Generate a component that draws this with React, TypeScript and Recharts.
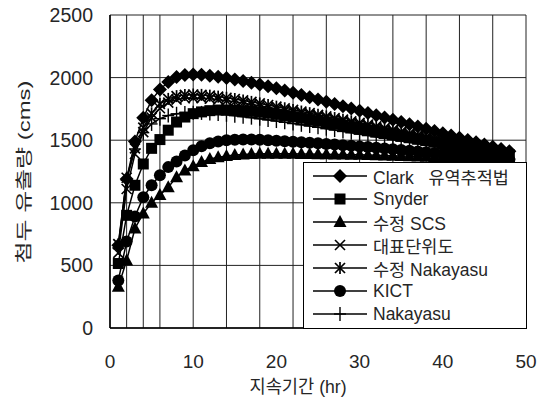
import React from 'react';
import { LineChart, Line, XAxis, YAxis, CartesianGrid } from 'recharts';

const hours = [1,2,3,4,5,6,7,8,9,10,11,12,13,14,15,16,17,18,19,20,21,22,23,24,25,26,27,28,29,30,31,32,33,34,35,36,37,38,39,40,41,42,43,44,45,46,47,48];

const clark = [660,1190,1490,1680,1820,1905,1965,2005,2020,2025,2022,2015,2006,1996,1985,1972,1959,1945,1930,1915,1897,1879,1861,1843,1825,1807,1789,1771,1753,1735,1717,1699,1681,1663,1645,1627,1609,1591,1573,1555,1537,1519,1501,1483,1465,1447,1429,1411];
const snyder = [515,900,1140,1310,1435,1505,1580,1645,1685,1712,1726,1736,1741,1742,1740,1736,1730,1723,1715,1706,1696,1686,1675,1664,1653,1641,1629,1617,1605,1593,1581,1569,1557,1545,1533,1521,1509,1497,1485,1473,1461,1449,1437,1425,1413,1401,1389,1377];
const scs = [330,540,795,915,1000,1062,1125,1205,1258,1292,1325,1350,1364,1374,1381,1386,1389,1391,1392,1392,1392,1391,1390,1389,1388,1387,1386,1385,1384,1383,1382,1380,1378,1376,1374,1372,1370,1368,1366,1364,1361,1358,1355,1352,1349,1346,1343,1340];
const daepyo = [600,1110,1390,1565,1680,1755,1800,1824,1835,1838,1836,1831,1824,1816,1807,1797,1786,1775,1763,1751,1739,1727,1715,1703,1690,1677,1664,1651,1638,1625,1612,1598,1584,1570,1556,1542,1528,1514,1500,1486,1472,1458,1444,1430,1416,1402,1388,1375];
const modNakayasu = [670,1200,1435,1600,1715,1790,1830,1852,1862,1865,1862,1856,1848,1839,1829,1818,1806,1794,1781,1768,1755,1742,1729,1716,1703,1690,1677,1664,1651,1638,1624,1610,1596,1582,1568,1554,1540,1526,1512,1498,1484,1470,1456,1442,1428,1414,1400,1386];
const kict = [380,690,890,1045,1140,1220,1285,1330,1378,1420,1452,1476,1490,1499,1504,1506,1505,1503,1500,1496,1492,1488,1484,1480,1475,1470,1465,1460,1455,1450,1445,1439,1433,1427,1421,1415,1409,1403,1397,1391,1385,1379,1373,1367,1361,1355,1349,1343];
const nakayasu = [640,1180,1430,1560,1630,1672,1697,1711,1718,1720,1718,1714,1709,1703,1696,1688,1680,1671,1662,1653,1643,1633,1623,1613,1603,1592,1581,1570,1559,1548,1537,1526,1515,1504,1493,1482,1471,1460,1449,1438,1427,1416,1405,1394,1383,1372,1361,1350];

const seriesNames = ['Clark   유역추적법', 'Snyder', '수정 SCS', '대표단위도', '수정 Nakayasu', 'KICT', 'Nakayasu'];
const seriesKeys = ['clark', 'snyder', 'scs', 'daepyo', 'modNakayasu', 'kict', 'nakayasu'];
const seriesShapes = ['diamond', 'square', 'triangle', 'cross', 'asterisk', 'circle', 'plus'];
const seriesValues = [clark, snyder, scs, daepyo, modNakayasu, kict, nakayasu];

const xTicks = [0, 10, 20, 30, 40, 50];
const yTicks = [0, 500, 1000, 1500, 2000, 2500];
const xGrid = [0,2,4,6,8,10,12,14,16,18,20,22,24,26,28,30,32,34,36,38,40,42,44,46,48,50];

const xTitle = '지속기간 (hr)';
const yTitle = '첨두 유출량 (cms)';

const data = hours.map((h, i) => {
  const row: Record<string, number> = { t: h };
  seriesKeys.forEach((k, j) => { row[k] = seriesValues[j][i]; });
  return row;
});

const FONT = '"Liberation Sans", Arial, "Noto Sans CJK KR", sans-serif';
const TEXT = '#262626';

function Marker({ shape, cx, cy }: { shape: string; cx: number; cy: number }) {
  const c = '#000';
  switch (shape) {
    case 'diamond':
      return <polygon points={`${cx},${cy - 7} ${cx + 7},${cy} ${cx},${cy + 7} ${cx - 7},${cy}`} fill={c} />;
    case 'square':
      return <rect x={cx - 5.5} y={cy - 5.5} width={11} height={11} fill={c} />;
    case 'triangle':
      return <polygon points={`${cx},${cy - 7} ${cx + 6.5},${cy + 5} ${cx - 6.5},${cy + 5}`} fill={c} />;
    case 'cross':
      return (
        <g stroke={c} strokeWidth={1.6}>
          <line x1={cx - 5} y1={cy - 5} x2={cx + 5} y2={cy + 5} />
          <line x1={cx - 5} y1={cy + 5} x2={cx + 5} y2={cy - 5} />
        </g>
      );
    case 'asterisk':
      return (
        <g stroke={c} strokeWidth={1.7}>
          <line x1={cx - 5} y1={cy - 5} x2={cx + 5} y2={cy + 5} />
          <line x1={cx - 5} y1={cy + 5} x2={cx + 5} y2={cy - 5} />
          <line x1={cx} y1={cy - 6} x2={cx} y2={cy + 6} />
        </g>
      );
    case 'circle':
      return <circle cx={cx} cy={cy} r={6} fill={c} />;
    case 'plus':
    default:
      return (
        <g stroke={c} strokeWidth={1.4}>
          <line x1={cx - 6} y1={cy} x2={cx + 6} y2={cy} />
          <line x1={cx} y1={cy - 7} x2={cx} y2={cy + 7} />
        </g>
      );
  }
}

const XTitle = () => (
  <text x={298} y={387} textAnchor="middle" dominantBaseline="central" fontSize={18} fill={TEXT} fontFamily={FONT}
    textLength={97} lengthAdjust="spacingAndGlyphs">
    {xTitle}
  </text>
);

const YTitle = () => (
  <text x={24} y={172} textAnchor="middle" dominantBaseline="central" fontSize={17} fill={TEXT} fontFamily={FONT}
    textLength={183} lengthAdjust="spacingAndGlyphs" transform="rotate(-90 24 172)">
    {yTitle}
  </text>
);

function LegendBox() {
  return (
    <div
      style={{
        position: 'absolute',
        left: 303,
        top: 162,
        width: 222,
        height: 165,
        border: '1px solid #000',
        background: '#fff',
        fontFamily: FONT,
        fontSize: 17.5,
        color: TEXT,
      }}
    >
      {seriesNames.map((n, i) => (
        <div key={n} style={{ position: 'absolute', left: 9, top: 2 + i * 23, height: 22, display: 'flex', alignItems: 'center', whiteSpace: 'pre' }}>
          <svg width={54} height={22} style={{ display: 'block' }}>
            <line x1={0} y1={11} x2={54} y2={11} stroke="#000" strokeWidth={1.6} />
            <Marker shape={seriesShapes[i]} cx={27} cy={11} />
          </svg>
          <span style={{ marginLeft: 6 }}>{n}</span>
        </div>
      ))}
    </div>
  );
}

export default function App() {
  return (
    <div style={{ position: 'absolute', left: 0, top: 0, width: 537, height: 403, background: '#fff' }}>
      <LineChart width={537} height={403} data={data} margin={{ top: 15, right: 11, left: 0, bottom: 0 }}>
        <CartesianGrid stroke="#222" strokeWidth={1} verticalValues={xGrid} horizontalValues={yTicks} />
        <XAxis
          dataKey="t"
          type="number"
          domain={[0, 50]}
          ticks={xTicks}
          height={75}
          tickSize={0}
          tickMargin={27}
          tickLine={false}
          axisLine={{ stroke: '#000', strokeWidth: 1.5 }}
          tick={{ fontSize: 19, fill: TEXT, fontFamily: FONT }}
          label={<XTitle />}
        />
        <YAxis
          type="number"
          domain={[0, 2500]}
          ticks={yTicks}
          width={110}
          tickSize={0}
          tickMargin={17}
          tickLine={false}
          axisLine={{ stroke: '#000', strokeWidth: 1.5 }}
          tick={{ fontSize: 19.5, fill: TEXT, fontFamily: FONT }}
          label={<YTitle />}
        />
        {seriesKeys.map((k, i) => (
          <Line
            key={k}
            dataKey={k}
            name={seriesNames[i]}
            stroke="#000"
            strokeWidth={1.5}
            isAnimationActive={false}
            dot={(p: any) => (
              <g key={`${k}-${p.index}`}>
                <Marker shape={seriesShapes[i]} cx={p.cx} cy={p.cy} />
              </g>
            )}
          />
        ))}
      </LineChart>
      <LegendBox />
    </div>
  );
}
